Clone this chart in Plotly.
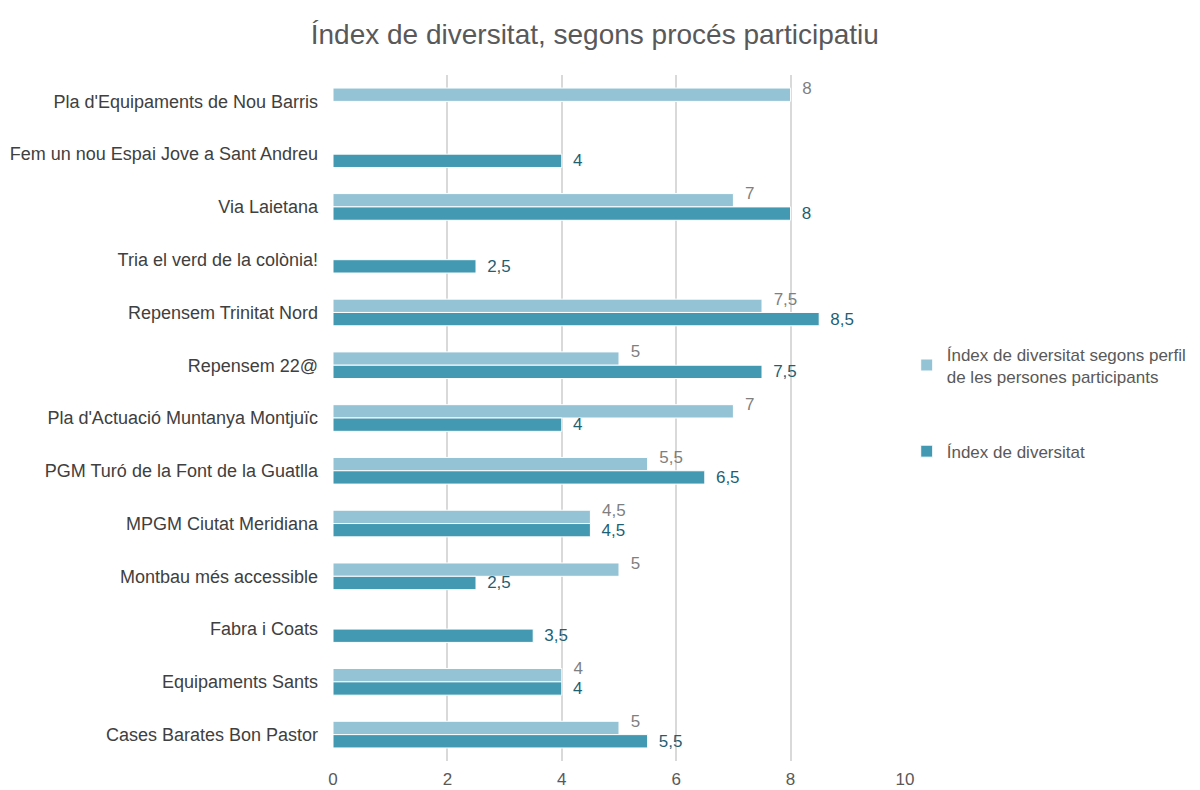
import plotly.graph_objects as go

categories = [
    "Pla d'Equipaments de Nou Barris",
    "Fem un nou Espai Jove a Sant Andreu",
    "Via Laietana",
    "Tria el verd de la colònia!",
    "Repensem Trinitat Nord",
    "Repensem 22@",
    "Pla d'Actuació Muntanya Montjuïc",
    "PGM Turó de la Font de la Guatlla",
    "MPGM Ciutat Meridiana",
    "Montbau més accessible",
    "Fabra i Coats",
    "Equipaments Sants",
    "Cases Barates Bon Pastor",
]
perfil = [8, None, 7, None, 7.5, 5, 7, 5.5, 4.5, 5, None, 4, 5]
diversitat = [None, 4, 8, 2.5, 8.5, 7.5, 4, 6.5, 4.5, 2.5, 3.5, 4, 5.5]
x_ticks = [0, 2, 4, 6, 8, 10]

name_perfil = "Índex de diversitat segons perfil<br>de les persones participants"
name_div = "Índex de diversitat"

PAD = "\u00a0\u2009"


def fmt(v):
    if v is None:
        return ""
    return PAD + ("%g" % v).replace(".", ",")


FONT = "Liberation Sans, Arial, sans-serif"

fig = go.Figure()
fig.add_trace(go.Bar(
    y=categories, x=perfil, orientation="h", name=name_perfil,
    marker=dict(color="#93C3D5", line=dict(color="white", width=1)),
    hoverinfo="x+y", legendgroup="a",
))
fig.add_trace(go.Bar(
    y=categories, x=diversitat, orientation="h", name=name_div,
    marker=dict(color="#4399B2", line=dict(color="white", width=1)),
    text=[fmt(v) for v in diversitat], textposition="outside",
    constraintext="none",
    textfont=dict(color="#1F5F73", size=17, family=FONT),
    cliponaxis=False, legendgroup="b",
))
# labels of the light series (sit slightly above their bar, as in the reference)
lab_x = [v for v in perfil if v is not None]
lab_y = [c for c, v in zip(categories, perfil) if v is not None]
fig.add_trace(go.Scatter(
    x=lab_x, y=lab_y, mode="markers+text",
    marker=dict(size=4, opacity=0, color="#7F7F7F"),
    text=[fmt(v) for v in lab_x], textposition="top right",
    textfont=dict(color="#7F7F7F", size=17, family=FONT),
    showlegend=False, hoverinfo="skip", cliponaxis=False,
))

fig.update_layout(
    width=1200, height=790,
    paper_bgcolor="white", plot_bgcolor="white",
    barmode="group", bargap=0.495, bargroupgap=0,
    margin=dict(l=325, r=303, t=67, b=37),
    title=dict(text="Índex de diversitat, segons procés participatiu",
               x=0.489, xanchor="center", y=1 - 26 / 790, yanchor="middle",
               font=dict(size=28, color="#595959", family=FONT)),
    font=dict(family=FONT, color="#595959", size=17),
    showlegend=True,
    legend=dict(x=1.003, xanchor="left", y=0.522, yanchor="middle",
                traceorder="grouped", tracegroupgap=50,
                font=dict(size=17, color="#595959", family=FONT),
                itemwidth=30),
    xaxis=dict(range=[0, 10], tickvals=x_ticks,
               showgrid=True, gridcolor="#D9D9D9", gridwidth=1.5,
               zeroline=False, showline=False, ticks="",
               tickfont=dict(size=17, color="#595959"), ticklabelstandoff=6,
               automargin=False),
    yaxis=dict(range=[len(categories) - 0.5, -0.5], autorange=False,
               showgrid=False, showline=False,
               ticks="", tickfont=dict(size=18, color="#404040"),
               ticklabelstandoff=14, automargin=False),
)

fig.write_html("out.html")
